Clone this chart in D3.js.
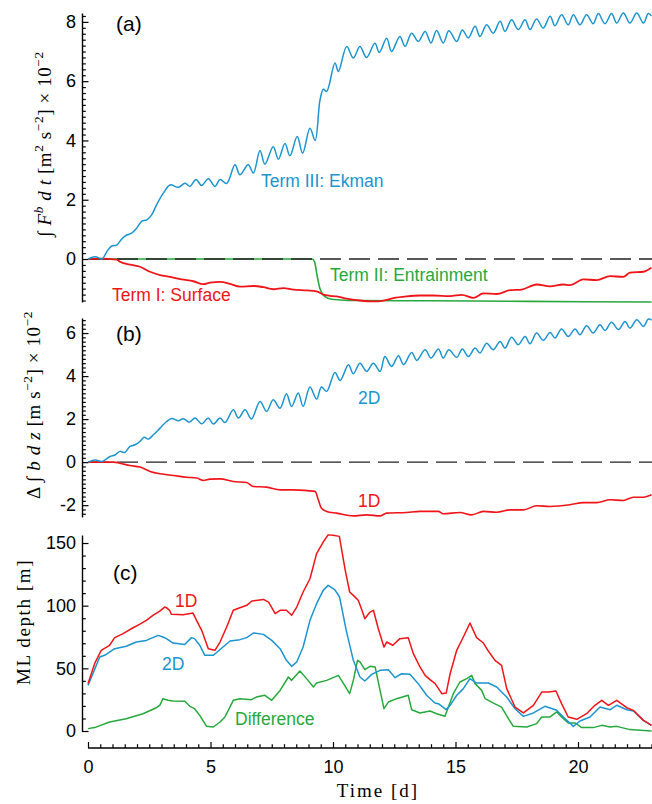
<!DOCTYPE html>
<html>
<head>
<meta charset="utf-8">
<script src="https://cdn.jsdelivr.net/npm/d3@7"></script>
<style>
  html, body { margin: 0; padding: 0; background: #fff; }
  svg { display: block; }
</style>
</head>
<body>
<div id="chart"></div>
<script>
// ---- data: [time (days), value] ----
// (a) time-integrated buoyancy flux terms, x 10^-2 m^2 s^-2
const termSurface = [[0,0],[0.5,0.01],[1.17,-0.02],[1.3,-0.09],[1.78,-0.2],[2.12,-0.26],[2.53,-0.43],[2.94,-0.54],[3.35,-0.6],[3.82,-0.69],[4.3,-0.75],[4.7,-0.85],[4.98,-0.8],[5.39,-0.77],[5.8,-0.84],[6.2,-0.93],[6.75,-0.91],[7.16,-0.95],[7.56,-1.02],[7.97,-0.98],[8.38,-1.03],[8.92,-1.06],[9.33,-1.09],[9.61,-1.2],[9.88,-1.24],[10.15,-1.26],[10.56,-1.34],[11.1,-1.4],[11.65,-1.43],[12.06,-1.4],[12.46,-1.32],[13.0,-1.26],[13.55,-1.23],[14.1,-1.23],[14.78,-1.25],[15.26,-1.21],[15.73,-1.31],[16.14,-1.16],[16.68,-1.18],[17.23,-1.05],[17.7,-1.03],[18.31,-0.86],[18.86,-0.92],[19.4,-0.86],[19.67,-0.88],[20.22,-0.69],[20.76,-0.71],[21.31,-0.58],[21.85,-0.6],[22.12,-0.46],[22.67,-0.43],[23.0,-0.29]];
const termEntrain = [[0,0],[9.15,0],[9.25,-0.1],[9.35,-0.55],[9.45,-0.95],[9.55,-1.15],[9.7,-1.28],[9.9,-1.35],[10.3,-1.38],[11,-1.4],[14,-1.41],[18,-1.43],[23,-1.45]];
const termEkman = [[0,0],[0.3,0.08],[0.57,0],[0.77,0.25],[0.97,0.44],[1.17,0.47],[1.37,0.67],[1.58,0.81],[1.78,0.87],[1.99,1.04],[2.19,1.27],[2.4,1.32],[2.6,1.49],[2.8,1.83],[3.08,2.23],[3.35,2.5],[3.69,2.42],[3.96,2.56],[4.16,2.45],[4.41,2.68],[4.64,2.48],[4.91,2.71],[5.18,2.45],[5.39,2.68],[5.66,2.55],[6.0,3.18],[6.2,2.84],[6.54,3.18],[6.75,2.9],[7.02,3.66],[7.22,3.2],[7.56,3.79],[7.77,3.37],[8.04,3.9],[8.24,3.48],[8.54,4.13],[8.76,3.57],[9.06,4.41],[9.27,4.0],[9.47,5.37],[9.61,5.73],[9.74,5.65],[10.08,6.61],[10.22,6.33],[10.56,7.17],[10.83,6.78],[11.1,7.17],[11.37,6.8],[11.71,7.28],[11.89,6.97],[12.19,7.45],[12.39,7.0],[12.73,7.51],[12.94,7.17],[13.21,7.62],[13.48,7.34],[13.76,7.68],[14.0,7.29],[14.23,7.71],[14.5,7.29],[14.73,7.7],[15.05,7.34],[15.28,7.73],[15.52,7.46],[15.8,7.85],[16.0,7.51],[16.27,7.9],[16.54,7.62],[16.82,8.02],[17.02,7.68],[17.29,8.07],[17.56,7.74],[17.84,8.07],[18.04,7.74],[18.31,8.1],[18.58,7.79],[18.86,8.19],[19.06,7.87],[19.33,8.24],[19.6,7.9],[19.81,8.24],[20.08,7.9],[20.35,8.24],[20.62,7.94],[20.83,8.28],[21.1,7.94],[21.37,8.28],[21.58,7.96],[21.85,8.3],[22.12,7.96],[22.4,8.3],[22.67,7.96],[22.87,8.28],[23.0,8.2]];

// (b) change in depth-integrated buoyancy, x 10^-2 m s^-2
const buoy2D = [[0,0],[0.3,0.1],[0.57,0.03],[0.9,0.26],[1.1,0.33],[1.3,0.5],[1.5,0.45],[1.71,0.73],[1.92,0.81],[2.12,0.96],[2.29,1.16],[2.46,1.07],[2.67,1.27],[2.94,1.58],[3.21,1.89],[3.42,2.03],[3.69,1.92],[3.89,2.02],[4.14,1.86],[4.37,2.05],[4.64,1.78],[4.91,2.05],[5.12,1.77],[5.39,2.05],[5.59,1.84],[5.93,2.43],[6.14,2.05],[6.41,2.43],[6.67,2.0],[7.02,2.82],[7.29,2.36],[7.56,2.9],[7.84,2.51],[8.1,3.18],[8.31,2.59],[8.58,3.21],[8.78,2.59],[9.06,3.49],[9.33,2.93],[9.53,3.49],[9.74,3.29],[10.08,4.17],[10.29,3.8],[10.63,4.53],[10.83,4.11],[11.1,4.6],[11.37,4.22],[11.65,4.6],[11.92,4.22],[12.12,4.91],[12.39,4.45],[12.67,4.95],[12.88,4.53],[13.21,5.1],[13.42,4.73],[13.76,5.22],[14.0,4.84],[14.3,5.26],[14.5,4.84],[14.73,5.22],[15.05,4.87],[15.28,5.26],[15.52,4.91],[15.8,5.3],[16.0,5.07],[16.27,5.53],[16.54,5.22],[16.82,5.61],[17.02,5.3],[17.29,5.81],[17.56,5.46],[17.84,5.84],[18.04,5.5],[18.31,6.0],[18.58,5.66],[18.86,6.03],[19.06,5.77],[19.33,6.19],[19.6,5.84],[19.88,6.19],[20.08,5.92],[20.35,6.34],[20.62,6.0],[20.9,6.39],[21.1,6.12],[21.37,6.5],[21.65,6.16],[21.92,6.54],[22.12,6.23],[22.4,6.62],[22.67,6.31],[22.87,6.65],[23.0,6.6]];
const buoy1D = [[0,0],[1.05,0],[1.3,-0.05],[1.71,-0.16],[2.12,-0.23],[2.53,-0.43],[2.94,-0.54],[3.49,-0.62],[4.03,-0.7],[4.44,-0.74],[4.71,-0.85],[4.98,-0.79],[5.39,-0.78],[5.93,-0.9],[6.48,-0.95],[6.75,-1.13],[7.29,-1.16],[7.84,-1.29],[8.38,-1.29],[9.27,-1.36],[9.4,-1.75],[9.53,-2.14],[9.74,-2.29],[10.15,-2.37],[10.83,-2.5],[11.37,-2.45],[11.92,-2.5],[12.19,-2.37],[13.0,-2.34],[13.55,-2.29],[14.3,-2.29],[14.5,-2.4],[15.18,-2.34],[15.66,-2.45],[16.14,-2.29],[16.68,-2.33],[17.23,-2.22],[17.77,-2.22],[18.31,-2.03],[18.86,-2.06],[19.67,-1.98],[20.22,-1.88],[20.76,-1.88],[21.31,-1.75],[21.85,-1.78],[22.26,-1.63],[22.67,-1.63],[23.0,-1.52]];

// (c) mixed-layer depth, m
const mld1D = [[0,37.8],[0.27,53.7],[0.54,64.4],[0.88,68.4],[1.09,74.5],[1.43,77.7],[1.84,82.4],[2.1,85.1],[2.38,88.3],[2.65,92.3],[2.93,95.7],[3.13,98.9],[3.2,98.4],[3.33,96.3],[3.4,93.1],[3.88,92.8],[4.29,94.1],[4.43,88.3],[4.64,80.3],[4.91,65.7],[5.18,64.4],[5.39,71],[5.66,83],[5.93,96.3],[6.2,98.4],[6.48,100.3],[6.69,103.7],[7.16,105],[7.37,102.9],[7.64,93.6],[7.84,96.3],[8.1,96.3],[8.31,92.3],[8.52,98.9],[8.78,110.9],[9.06,121.5],[9.33,141.5],[9.6,150.8],[9.8,156.5],[10.0,156.2],[10.26,155.3],[10.5,128.2],[10.68,110.9],[10.83,108.2],[11.03,104.3],[11.16,97.6],[11.3,89.6],[11.51,94.9],[11.65,96.3],[11.85,81.6],[12.08,67],[12.19,71],[12.44,68.4],[12.73,73.7],[13.07,74.5],[13.28,61.7],[13.55,51.1],[13.76,44.4],[13.96,41],[14.17,37.8],[14.44,29.8],[14.62,30.3],[14.78,45.7],[15.05,64.4],[15.32,75],[15.59,86.2],[15.86,74.5],[16.14,70.2],[16.34,63.8],[16.61,56.4],[16.88,52.4],[17.09,33.8],[17.43,19.1],[17.77,14.4],[18.18,20.5],[18.52,31.1],[18.79,31.1],[19.1,31.9],[19.33,21.8],[19.6,11.2],[19.95,9.3],[20.35,13.8],[20.69,20.5],[20.97,24.5],[21.24,20.5],[21.58,24.5],[21.99,18.6],[22.26,16.5],[22.67,8.5],[23.0,4.5]];
const mld2D = [[0,36.4],[0.48,59],[0.68,60.4],[1.09,65.7],[1.56,67.6],[1.97,71],[2.38,72.3],[2.86,76.3],[3.06,75],[3.2,73.7],[3.47,70.2],[3.95,69.1],[4.22,74.5],[4.35,73.7],[4.56,68.4],[4.77,60.4],[5.12,60.4],[5.39,65],[5.8,71.8],[6.2,72.9],[6.48,74.5],[6.75,78.2],[7.16,77.1],[7.5,72.3],[7.84,65.7],[8.1,56.4],[8.31,51.6],[8.52,55.1],[8.78,67],[9.06,88.3],[9.33,101.6],[9.6,112.2],[9.8,116.2],[10.07,112.8],[10.27,106.9],[10.54,80.3],[10.83,56.4],[11.1,43.1],[11.3,39.9],[11.58,45.2],[11.92,48.4],[12.26,48.9],[12.53,42.6],[12.8,45.7],[13.14,45.2],[13.48,37.8],[13.82,28.5],[14.16,22.3],[14.3,21.8],[14.62,17],[14.78,20.5],[15.05,28.5],[15.32,33.8],[15.59,41.8],[15.86,38.3],[16.34,38.3],[16.68,35.1],[17.09,27.1],[17.43,17.8],[17.77,11.7],[18.18,14.4],[18.65,19.7],[19.13,16.5],[19.4,11.2],[19.81,3.7],[20.08,8],[20.49,11.2],[20.9,19.1],[21.31,17],[21.58,20.5],[21.99,17],[22.26,16],[22.67,8.5],[23.0,4.5]];
const mldDiff = [[0,1.9],[0.27,2.7],[0.88,7.2],[1.56,9.8],[2.24,13.8],[2.79,18.6],[2.93,20.5],[3.06,25.8],[3.27,24.5],[3.47,23.9],[3.95,23.7],[4.16,19.7],[4.35,17.8],[4.56,12.5],[4.84,3.7],[5.12,3.2],[5.39,7.2],[5.59,11.2],[5.93,24.5],[6.2,25.8],[6.67,25],[6.87,27.1],[7.22,28.5],[7.5,24.5],[7.84,32.4],[8.18,43.1],[8.31,40.4],[8.65,47.9],[8.92,41.8],[9.2,35.1],[9.33,38.3],[9.74,40.4],[10.22,44.4],[10.43,37.8],[10.68,29.8],[10.83,40.4],[11.0,56.4],[11.1,55.1],[11.3,48.9],[11.51,51.6],[11.72,51.1],[11.92,32.4],[12.08,17.8],[12.26,23.1],[12.6,25.8],[13.07,28.5],[13.21,17],[13.55,14.4],[13.96,16],[14.23,13.8],[14.57,11.7],[14.71,19.1],[14.91,29.8],[15.18,39.1],[15.46,41.8],[15.66,44.4],[15.8,37.8],[16.07,32.4],[16.21,25.8],[16.55,22.3],[16.88,19.1],[17.16,9.8],[17.36,3.7],[17.91,3.2],[18.31,5.9],[18.52,11.2],[18.86,11.2],[19.13,15.2],[19.33,11.2],[19.6,6.4],[19.88,6.4],[20.15,2.7],[20.62,2.7],[20.97,4.5],[21.31,3.2],[21.58,3.7],[22.12,1.1],[23.0,0]];

// tick values
const timeTicks = [0, 5, 10, 15, 20];
const ticksA = [0, 2, 4, 6, 8];
const ticksB = [-2, 0, 2, 4, 6];
const ticksC = [0, 50, 100, 150];

// ---- drawing ----
const W = 652, H = 804;
const BLUE = "#1b94cf", RED = "#f01418", GREEN = "#27a83d";
const SANS = "'Liberation Sans', Arial, Helvetica, sans-serif";
const SERIF = "'Liberation Serif', 'DejaVu Serif', serif";

const svg = d3.select("#chart").append("svg")
  .attr("width", W).attr("height", H)
  .style("font-family", SANS);

const axisX = 82;
const x = d3.scaleLinear().domain([0, 23]).range([88, 651.5]);

const yA = d3.scaleLinear().domain([-1.45, 8.3]).range([302, 13]);
const yB = d3.scaleLinear().domain([-2.55, 6.7]).range([517, 318]);
const yC = d3.scaleLinear().domain([0, 156.4]).range([731, 535]);

function yAxis(y, major, minorStep) {
  const g = svg.append("g").attr("transform", `translate(${axisX},0)`);
  const [lo, hi] = y.domain();
  const minor = d3.range(Math.ceil(lo / minorStep) * minorStep, hi + 1e-9, minorStep)
    .filter(v => !major.some(m => Math.abs(m - v) < 1e-6));
  g.append("g")
    .call(d3.axisLeft(y).tickValues(minor).tickSize(-3.8).tickFormat(""))
    .call(s => s.select(".domain").remove());
  g.append("g")
    .call(d3.axisLeft(y).tickValues(major).tickSize(-6.5).tickSizeOuter(0).tickPadding(6)
      .tickFormat(d => String(d)))
    .call(s => s.selectAll("text").style("font-size", "18px").style("font-family", SANS).attr("fill", "#000"));
  g.selectAll("line").attr("stroke", "#000").attr("stroke-width", 1.2);
  g.selectAll(".domain").attr("stroke", "#000").attr("stroke-width", 1.4);
}

yAxis(yA, ticksA, 0.2);
yAxis(yB, ticksB, 0.2);
yAxis(yC, ticksC, 10);

// time axis, detached below panel (c)
const xg = svg.append("g").attr("transform", "translate(0,748)");
xg.append("g")
  .call(d3.axisBottom(x).tickValues(d3.range(0, 23.01, 0.5).filter(v => v % 5 !== 0))
    .tickSize(-3.8).tickFormat(""))
  .call(s => s.select(".domain").remove());
xg.append("g")
  .call(d3.axisBottom(x).tickValues(timeTicks).tickSize(-6).tickSizeOuter(0).tickPadding(12)
    .tickFormat(d => String(d)))
  .call(s => s.selectAll("text").style("font-size", "18px").style("font-family", SANS).attr("fill", "#000"));
xg.selectAll("line").attr("stroke", "#000").attr("stroke-width", 1.2);
xg.selectAll(".domain").attr("stroke", "#000").attr("stroke-width", 1.4)
  .attr("d", `M${x(0)},0H652`);

// series
function drawLine(data, y, color, width, curve) {
  svg.append("path")
    .datum(data)
    .attr("fill", "none")
    .attr("stroke", color)
    .attr("stroke-width", width)
    .attr("stroke-linejoin", "round")
    .attr("d", d3.line().x(d => x(d[0])).y(d => y(d[1])).curve(curve)(data));
}
function zeroLine(y) {
  svg.append("line")
    .attr("x1", x(0)).attr("x2", 652)
    .attr("y1", y(0)).attr("y2", y(0))
    .attr("stroke", "#222").attr("stroke-width", 1.4)
    .attr("stroke-dasharray", "21,8");
}

const smooth = d3.curveMonotoneX;
const wavy = d3.curveCatmullRom.alpha(0.5);

// (a)
drawLine(termEntrain, yA, GREEN, 1.6, smooth);
zeroLine(yA);
drawLine(termSurface, yA, RED, 1.8, smooth);
drawLine(termEkman, yA, BLUE, 1.5, wavy);

// (b)
zeroLine(yB);
drawLine(buoy1D, yB, RED, 1.6, smooth);
drawLine(buoy2D, yB, BLUE, 1.5, wavy);

// (c)
drawLine(mldDiff, yC, GREEN, 1.5, d3.curveLinear);
drawLine(mld2D, yC, BLUE, 1.5, d3.curveLinear);
drawLine(mld1D, yC, RED, 1.5, d3.curveLinear);

// panel letters
const letters = [["(a)", 116, 31], ["(b)", 116, 341], ["(c)", 113, 580]];
svg.selectAll("text.panel").data(letters).enter().append("text")
  .attr("class", "panel")
  .attr("x", d => d[1]).attr("y", d => d[2])
  .style("font-size", "21px").attr("fill", "#000")
  .text(d => d[0]);

// series annotations
const notes = [
  ["Term III: Ekman", 261, 187, BLUE],
  ["Term II: Entrainment", 330, 281, GREEN],
  ["Term I: Surface", 112, 301, RED],
  ["2D", 358, 404, BLUE],
  ["1D", 358, 507, RED],
  ["1D", 175, 607, RED],
  ["2D", 162, 670, BLUE],
  ["Difference", 235, 725, GREEN]
];
svg.selectAll("text.note").data(notes).enter().append("text")
  .attr("class", "note")
  .attr("x", d => d[1]).attr("y", d => d[2])
  .attr("fill", d => d[3])
  .style("font-size", "17.5px")
  .text(d => d[0]);

// axis titles with math-style typesetting
function mathLabel(tx, ty, parts, size, spacing) {
  const t = svg.append("text")
    .attr("transform", `translate(${tx},${ty}) rotate(-90)`)
    .attr("text-anchor", "middle")
    .style("font-family", SERIF)
    .style("font-size", size + "px")
    .style("letter-spacing", (spacing || 0) + "px")
    .attr("fill", "#000");
  let shifted = 0;
  parts.forEach(p => {
    const s = t.append("tspan").text(p.t);
    if (p.it) s.style("font-style", "italic");
    const want = p.sup ? -0.42 * size : 0;
    if (want !== shifted) { s.attr("dy", want - shifted); shifted = want; }
    if (p.sup) s.style("font-size", (size * 0.7) + "px");
  });
  return t;
}

mathLabel(51, 144, [
  { t: "\u222B " }, { t: "F", it: true }, { t: "b", it: true, sup: true },
  { t: " d t", it: true }, { t: "  [m" }, { t: "2", sup: true }, { t: " s" },
  { t: "\u22122", sup: true }, { t: "] \u00D7 10" }, { t: "\u22122", sup: true }
], 19, 0.6);

mathLabel(40, 405, [
  { t: "\u0394 \u222B " }, { t: "b d z", it: true }, { t: "  [m s" },
  { t: "\u22122", sup: true }, { t: "] \u00D7 10" }, { t: "\u22122", sup: true }
], 19, 0.6);

mathLabel(30, 622, [
  { t: "ML depth [m]" }
], 19, 1.6);

svg.append("text")
  .attr("x", 378).attr("y", 797)
  .attr("text-anchor", "middle")
  .style("font-family", SERIF)
  .style("font-size", "19px")
  .style("letter-spacing", "2px")
  .attr("fill", "#000")
  .text("Time [d]");
</script>
</body>
</html>
